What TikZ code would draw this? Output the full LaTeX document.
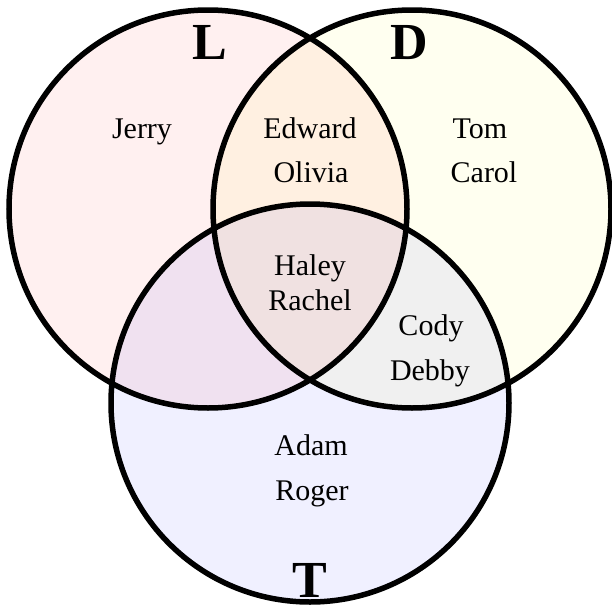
\documentclass[tikz,border=0pt]{standalone}
\usepackage{fontspec}
\setmainfont{Liberation Serif}
\definecolor{lcol}{RGB}{255,240,240}
\definecolor{dcol}{RGB}{255,255,240}
\definecolor{tcol}{RGB}{240,240,255}
\definecolor{ldcol}{RGB}{255,240,225}
\definecolor{ltcol}{RGB}{240,225,240}
\definecolor{dtcol}{RGB}{240,240,240}
\definecolor{ldtcol}{RGB}{240,225,225}
\tikzset{
  setring/.style={draw=black, line width=5.5pt},
  namelbl/.style={anchor=base, inner sep=0pt, font=\fontsize{30}{34}\selectfont},
  setlbl/.style={anchor=base, inner sep=0pt, font=\fontsize{52}{56}\selectfont\bfseries},
}
\begin{document}
\begin{tikzpicture}[x=1pt,y=-1pt]
\useasboundingbox (0,0) rectangle (611,616);
\def\R{199}
\coordinate (cL) at (208,209);
\coordinate (cD) at (412,209);
\coordinate (cT) at (310,403);
% fills
\fill[lcol] (cL) circle (\R);
\fill[dcol] (cD) circle (\R);
\fill[tcol] (cT) circle (\R);
\begin{scope}
  \clip (cL) circle (\R);
  \fill[ldcol] (cD) circle (\R);
  \fill[ltcol] (cT) circle (\R);
\end{scope}
\begin{scope}
  \clip (cD) circle (\R);
  \fill[dtcol] (cT) circle (\R);
\end{scope}
\begin{scope}
  \clip (cL) circle (\R);
  \clip (cD) circle (\R);
  \fill[ldtcol] (cT) circle (\R);
\end{scope}
% outlines
\draw[setring] (cL) circle (\R);
\draw[setring] (cD) circle (\R);
\draw[setring] (cT) circle (\R);
% set labels
\node[setlbl] (lL) at (210,59) {L};
\node[setlbl] (lD) at (409,59) {D};
\node[setlbl] (lT) at (310,597) {T};
% names
\node[namelbl] (jerry) at (142,138) {Jerry};
\node[namelbl] (edward) at (310,138) {Edward};
\node[namelbl] (olivia) at (311,182) {Olivia};
\node[namelbl] (tom) at (480,138) {Tom};
\node[namelbl] (carol) at (484,182) {Carol};
\node[namelbl] (haley) at (310,275) {Haley};
\node[namelbl] (rachel) at (310,310) {Rachel};
\node[namelbl] (cody) at (431,335) {Cody};
\node[namelbl] (debby) at (430,380) {Debby};
\node[namelbl] (adam) at (311,455) {Adam};
\node[namelbl] (roger) at (312,500) {Roger};
\end{tikzpicture}
\end{document}
